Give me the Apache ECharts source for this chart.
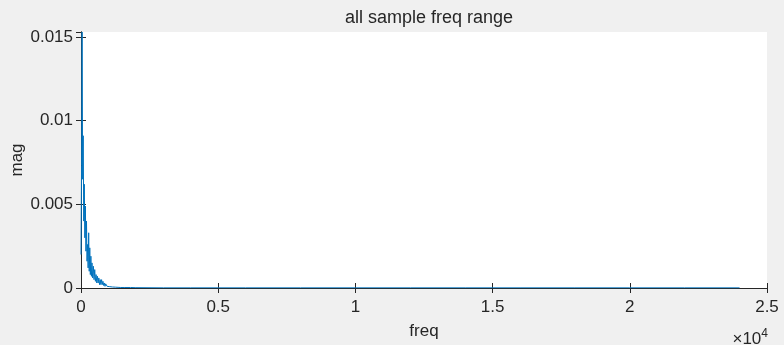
<!DOCTYPE html>
<html>
<head>
<meta charset="utf-8">
<script src="https://cdn.jsdelivr.net/npm/echarts@6/dist/echarts.min.js"></script>
<style>
html,body{margin:0;padding:0;background:#f0f0f0;}
#c{width:784px;height:345px;}
</style>
</head>
<body>
<div id="c"></div>
<script>
// frequency (Hz) and magnitude values
const freqs = [0,20,40,60,80,100,120,140,160,180,200,220,240,260,280,300,320,340,360,380,400,425,450,475,500,525,550,575,600,625,650,675,700,725,750,775,800,825,850,875,900,950,1000,1050,1100,1150,1200,1250,1300,1350,1400,1450,1500,1600,1800,2000,3000,4000,6000,8000,10000,12000,14000,16000,18000,20000,22000,24000];
const mags  = [0.0020,0.0073,0.0153,0.0065,0.0091,0.0040,0.0062,0.0030,0.0049,0.0022,0.0040,0.0016,0.0026,0.0012,0.0033,0.0010,0.0024,0.0008,0.0019,0.0007,0.0015,0.0006,0.0013,0.0005,0.0011,0.0004,0.0008,0.0003,0.0007,0.0003,0.0006,0.0002,0.0005,0.0002,0.0005,0.0002,0.0004,0.00015,0.0003,0.0001,0.00025,0.0001,0.0002,0.00008,0.00015,0.00006,0.00012,0.00005,0.0001,0.00004,0.00008,0.00003,0.00006,0.00003,0.00003,0.00002,0.00001,0.00001,0.00001,0.00001,0.00001,0.00001,0.00001,0.00001,0.00001,0.00001,0.00001,0.00001];
const xTickLabels = ['0','0.5','1','1.5','2','2.5'];
const yTickLabels = ['0','0.005','0.01','0.015'];
const titleText = 'all sample freq range';
const xName = 'freq';
const yName = 'mag';

const data = freqs.map((f,i)=>[f,mags[i]]);
const txt = '#262626';
const font = 'Liberation Sans, Arial, sans-serif';
const axisLine = {show:true, lineStyle:{color:txt, width:1}};
const chart = echarts.init(document.getElementById('c'));
chart.setOption({
  backgroundColor:'#f0f0f0',
  animation:false,
  title:{text:titleText, left:424, top:4, textAlign:'center',
    textStyle:{fontFamily:font, fontSize:18, fontWeight:'normal', color:txt}},
  grid:{left:81, right:17, top:32, bottom:57, show:true, backgroundColor:'#ffffff', borderWidth:0,
    containLabel:false, outerBoundsMode:'none'},
  xAxis:[{
    type:'value', min:0, max:25000, interval:5000, position:'bottom',
    axisLine:axisLine, axisTick:{show:true, inside:true, length:5, lineStyle:{color:txt}},
    splitLine:{show:false},
    axisLabel:{margin:11, fontFamily:font, fontSize:17, color:txt,
      formatter:v=>xTickLabels[Math.round(v/5000)]},
    name:xName, nameLocation:'middle', nameGap:35, nameMoveOverlap:false,
    nameTextStyle:{fontFamily:font, fontSize:17, color:txt}
  },{
    type:'value', min:0, max:25000, interval:5000, position:'top',
    axisLine:axisLine, axisTick:{show:true, inside:true, length:5, lineStyle:{color:txt}},
    axisLabel:{show:false}, splitLine:{show:false}
  }],
  yAxis:[{
    type:'value', min:0, max:0.0153, interval:0.005, position:'left',
    axisLine:axisLine, axisTick:{show:true, inside:true, length:5, lineStyle:{color:txt}},
    splitLine:{show:false},
    axisLabel:{margin:8, fontFamily:font, fontSize:17, color:txt, showMaxLabel:false,
      formatter:v=>{const k=Math.round(v/0.005); return Math.abs(v-k*0.005)<1e-9 ? yTickLabels[k] : '';}},
    name:yName, nameLocation:'middle', nameGap:55, nameRotate:90, nameMoveOverlap:false,
    nameTextStyle:{fontFamily:font, fontSize:17, color:txt}
  },{
    type:'value', min:0, max:0.0153, interval:0.005, position:'right',
    axisLine:axisLine, axisTick:{show:true, inside:true, length:5, lineStyle:{color:txt}},
    axisLabel:{show:false}, splitLine:{show:false}
  }],
  graphic:[{
    type:'text', right:16, top:328,
    style:{text:'×10{s|4}', fontFamily:font, fontSize:17, fill:txt,
      rich:{s:{fontSize:12, verticalAlign:'top', padding:[0,0,10,0], fontFamily:font, fill:txt}}}
  }],
  series:[{
    type:'line', data:data, xAxisIndex:0, yAxisIndex:0,
    showSymbol:false, symbol:'none',
    lineStyle:{color:'#0072BD', width:1}
  }]
});
</script>
</body>
</html>
